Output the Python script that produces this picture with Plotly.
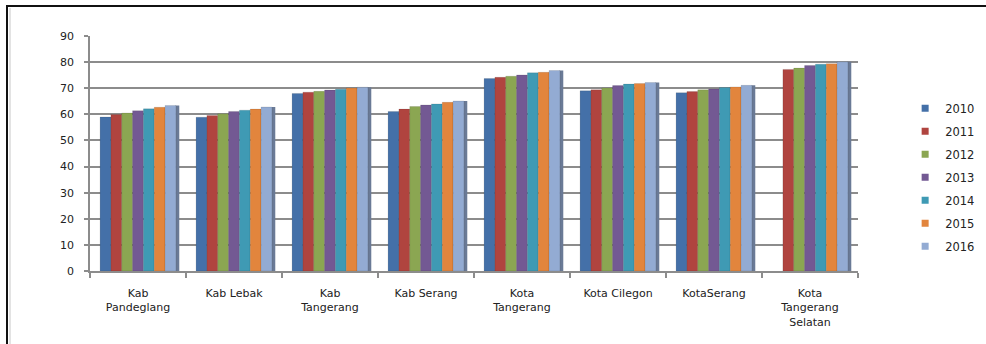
import plotly.graph_objects as go

# Indeks Pembangunan Manusia, kabupaten/kota di Provinsi Banten
regions = ["Kab<br>Pandeglang", "Kab Lebak", "Kab<br>Tangerang", "Kab Serang",
           "Kota<br>Tangerang", "Kota Cilegon", "KotaSerang",
           "Kota<br>Tangerang<br>Selatan"]
years = ["2010", "2011", "2012", "2013", "2014", "2015", "2016"]

ipm_2010 = [59.0, 58.9, 68.0, 61.1, 73.7, 69.0, 68.3, None]
ipm_2011 = [59.9, 59.6, 68.5, 62.0, 74.2, 69.4, 68.7, 77.2]
ipm_2012 = [60.5, 60.2, 68.8, 63.0, 74.6, 70.1, 69.4, 77.7]
ipm_2013 = [61.4, 61.1, 69.3, 63.6, 75.1, 71.0, 69.7, 78.7]
ipm_2014 = [62.1, 61.6, 69.6, 64.0, 75.9, 71.6, 70.3, 79.2]
ipm_2015 = [62.7, 62.0, 70.1, 64.6, 76.1, 71.8, 70.5, 79.4]
ipm_2016 = [63.4, 62.8, 70.4, 65.1, 76.8, 72.2, 71.1, 80.1]

series = [ipm_2010, ipm_2011, ipm_2012, ipm_2013, ipm_2014, ipm_2015, ipm_2016]
colors = ["#4470A8", "#B0443F", "#8BA652", "#735993", "#3F9AB4", "#E2853D", "#93ABD3"]
side_color = "#6A7A96"

group_width = 0.79
bar_w = group_width / len(series)

fig = go.Figure()

# shaded side of the last bar in each group gives the cluster some depth
fig.add_trace(go.Bar(
    x=regions, y=ipm_2016, offset=-group_width / 2 + bar_w * len(series) - 0.005,
    width=0.04, marker=dict(color=side_color, line=dict(width=0)),
    showlegend=False, hoverinfo="skip"))

for yr, vals, col, i in zip(years, series, colors, range(len(series))):
    fig.add_trace(go.Bar(
        x=regions, y=vals, name=yr,
        offset=-group_width / 2 + i * bar_w, width=bar_w,
        marker=dict(color=col, line=dict(width=0.6, color="rgba(0,0,0,0.18)")),
        showlegend=False))
    # compact square swatch for the legend
    fig.add_trace(go.Scatter(
        x=[None], y=[None], mode="markers", name=yr, legendgroup=yr,
        marker=dict(symbol="square", size=7, color=col)))

axis_grey = "#8C8C8C"
fig.update_layout(
    width=986, height=344,
    margin=dict(l=90, r=128, t=36, b=73),
    paper_bgcolor="white", plot_bgcolor="white",
    barmode="overlay",
    font=dict(family="DejaVu Sans", size=11, color="#222222"),
    legend=dict(
        xref="container", yref="container", x=0.918, y=0.485,
        xanchor="left", yanchor="middle",
        font=dict(size=11.5, color="#222222"),
        tracegroupgap=4.0, itemwidth=30, bgcolor="rgba(0,0,0,0)"),
    xaxis=dict(
        type="category", showgrid=False, showline=True, linecolor=axis_grey,
        linewidth=1.5, ticks="outside", tickson="boundaries", ticklen=5,
        tickcolor=axis_grey, tickwidth=1.5, ticklabelstandoff=11,
        tickfont=dict(size=11, color="#222222")),
    yaxis=dict(
        range=[0, 90], dtick=10, showgrid=True, gridcolor=axis_grey, gridwidth=1.6,
        showline=True, linecolor=axis_grey, linewidth=1.5, ticks="outside",
        ticklen=4, tickcolor=axis_grey, tickwidth=1.5, zeroline=False,
        ticksuffix="\u2007\u200a", tickfont=dict(size=11, color="#222222")),
    shapes=[
        dict(type="line", xref="paper", yref="paper",
             x0=(7 - 90) / 768, x1=(7 - 90) / 768, y0=(271 - 5) / 235, y1=(271 - 344) / 235,
             line=dict(color="#111111", width=2)),
        dict(type="line", xref="paper", yref="paper",
             x0=(6 - 90) / 768, x1=(986 - 90) / 768, y0=(271 - 6) / 235, y1=(271 - 6) / 235,
             line=dict(color="#111111", width=2)),
        dict(type="line", xref="paper", yref="paper",
             x0=(10 - 90) / 768, x1=(10 - 90) / 768, y0=(271 - 8) / 235, y1=(271 - 344) / 235,
             line=dict(color="#C8C8C8", width=1)),
    ],
)

fig.write_html("out.html")
